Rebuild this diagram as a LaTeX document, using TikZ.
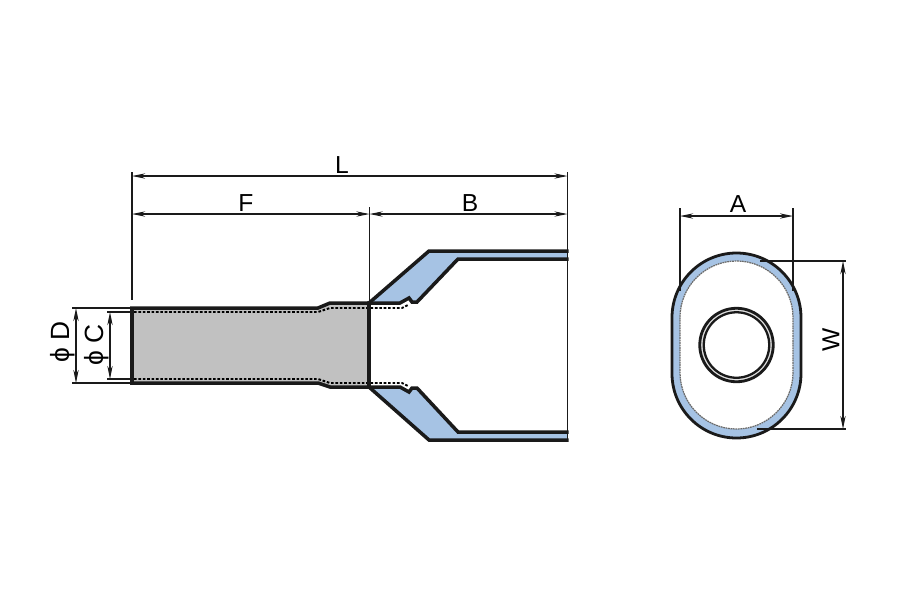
\documentclass[tikz,border=0pt]{standalone}
\usepackage{fontspec}
\setmainfont{Liberation Sans}
\usetikzlibrary{arrows.meta}
\definecolor{CBLUE}{HTML}{A6C3E4}
\definecolor{CGREY}{HTML}{C1C1C1}
\definecolor{CLINE}{HTML}{1A1A1A}
\tikzset{
    thinline/.style={CLINE, line width=0.6pt},
    dimline/.style={thinline, {Stealth[length=7.5pt,width=3pt]}-{Stealth[length=7.5pt,width=3pt]}},
    heavyline/.style={CLINE, line width=2pt},
    dotline/.style={black, line width=1.1pt, dash pattern=on 1.5pt off 1pt},
    dimlabel/.style={inner sep=0pt, font=\fontsize{14}{14}\selectfont},
    biglabel/.style={inner sep=0pt, font=\fontsize{15}{15}\selectfont},
}

\begin{document}
\begin{tikzpicture}[x=0.02cm, y=-0.02cm]
            \useasboundingbox (0,0) rectangle (900,600);

            % side view
            \fill[CGREY] (132,308) -- (318,308) -- (330,303) -- (369,303) -- (369,387) -- (330,387) -- (318,383) -- (132,383) -- cycle;
            \fill[CBLUE] (369,303) -- (429,251) -- (567,251) -- (567,259) -- (458,259) -- (417,302) -- (412,302) -- (409,298) -- (400,303) -- cycle;
            \fill[CBLUE] (369,387) -- (429,440) -- (567,440) -- (567,432) -- (458,432) -- (417,388) -- (412,388) -- (409,392) -- (400,387) -- cycle;

            \draw[white, line width=1.6pt] (398,308) -- (403,308) -- (408,305);
            \draw[white, line width=1.6pt] (398,382) -- (403,382) -- (408,385);
            \draw[dotline] (134,312) -- (318,312) -- (330,308) -- (402,308) -- (408,305);
            \draw[dotline] (134,379) -- (318,379) -- (330,383) -- (402,383) -- (408,386);

            \draw[heavyline] (568.5,251) -- (429,251) -- (369,303) -- (330,303) -- (318,308) -- (132,308) -- (132,383) -- (318,383) -- (330,387) -- (369,387) -- (429,440) -- (568.5,440);
            \draw[heavyline] (568.5,259) -- (458,259) -- (417,302) -- (412,302) -- (409,298) -- (400,303) -- (369,303) -- (369,387) -- (400,387) -- (409,392) -- (412,388) -- (417,388) -- (458,432) -- (568.5,432);
            \draw[CLINE, line width=1pt] (567.5,250) -- (567.5,441);

            % end view
            \draw[heavyline, fill=CBLUE, line width=1.6pt, rounded corners=1.29cm] (672,253) rectangle (801,438);
            \draw[CLINE!65, fill=white, line width=0.7pt, dash pattern=on 1pt off 0.4pt, rounded corners=1.13cm] (680,261) rectangle (793,429);
            \node[circle, draw=CLINE, line width=1.6pt, fill=CGREY!50, minimum size=73.5*0.02cm, inner sep=0pt] (holeout) at (736.5,345) {};
            \node[circle, draw=CLINE, line width=1.3pt, fill=white, minimum size=65.5*0.02cm, inner sep=0pt] (holein) at (736.5,345) {};

            % extension lines
            \coordinate (lextA) at (132,172);
            \coordinate (lextB) at (132,300);
            \coordinate (rextA) at (567.5,172);
            \coordinate (rextB) at (567.5,250);
            \coordinate (mextA) at (369.5,207);
            \coordinate (mextB) at (369.5,303);
            \draw[thinline] (lextA) -- (lextB);
            \draw[thinline] (rextA) -- (rextB);
            \draw[thinline] (mextA) -- (mextB);

            \coordinate (dextA) at (72,308);
            \coordinate (dextB) at (130,308);
            \coordinate (dextC) at (72,383);
            \coordinate (dextD) at (130,383);
            \coordinate (cextA) at (107,312);
            \coordinate (cextB) at (130,312);
            \coordinate (cextC) at (107,379);
            \coordinate (cextD) at (130,379);
            \draw[thinline] (dextA) -- (dextB);
            \draw[thinline] (dextC) -- (dextD);
            \draw[thinline] (cextA) -- (cextB);
            \draw[thinline] (cextC) -- (cextD);

            \coordinate (aextA) at (680,208);
            \coordinate (aextB) at (680,291);
            \coordinate (aextC) at (793,208);
            \coordinate (aextD) at (793,291);
            \coordinate (wextA) at (760,261);
            \coordinate (wextB) at (846,261);
            \coordinate (wextC) at (757,429);
            \coordinate (wextD) at (846,429);
            \draw[thinline] (aextA) -- (aextB);
            \draw[thinline] (aextC) -- (aextD);
            \draw[thinline] (wextA) -- (wextB);
            \draw[thinline] (wextC) -- (wextD);

            % dimensions
            \coordinate (lA) at (132,176);
            \coordinate (lB) at (567.5,176);
            \coordinate (fA) at (132,214);
            \coordinate (fB) at (369.5,214);
            \coordinate (bB) at (567.5,214);
            \coordinate (dA) at (76,308);
            \coordinate (dB) at (76,383);
            \coordinate (cA) at (110,312);
            \coordinate (cB) at (110,379);
            \coordinate (aA) at (680,216);
            \coordinate (aB) at (793,216);
            \coordinate (wA) at (843,261);
            \coordinate (wB) at (843,429);
            \draw[dimline] (lA) -- (lB);
            \draw[dimline] (fA) -- (fB);
            \draw[dimline] (fB) -- (bB);
            \draw[dimline] (dA) -- (dB);
            \draw[dimline] (cA) -- (cB);
            \draw[dimline] (aA) -- (aB);
            \draw[dimline] (wA) -- (wB);

            \node[dimlabel] (labL) at (342,165) {L};
            \node[dimlabel] (labF) at (246,203) {F};
            \node[dimlabel] (labB) at (470,203) {B};
            \node[dimlabel] (labA) at (738,204) {A};
            \node[dimlabel, rotate=90] (labW) at (831,340) {W};
            \node[biglabel, rotate=90] (labD) at (63,342) {ϕ D};
            \node[biglabel, rotate=90] (labC) at (97,345) {ϕ C};
        \end{tikzpicture}
\end{document}
